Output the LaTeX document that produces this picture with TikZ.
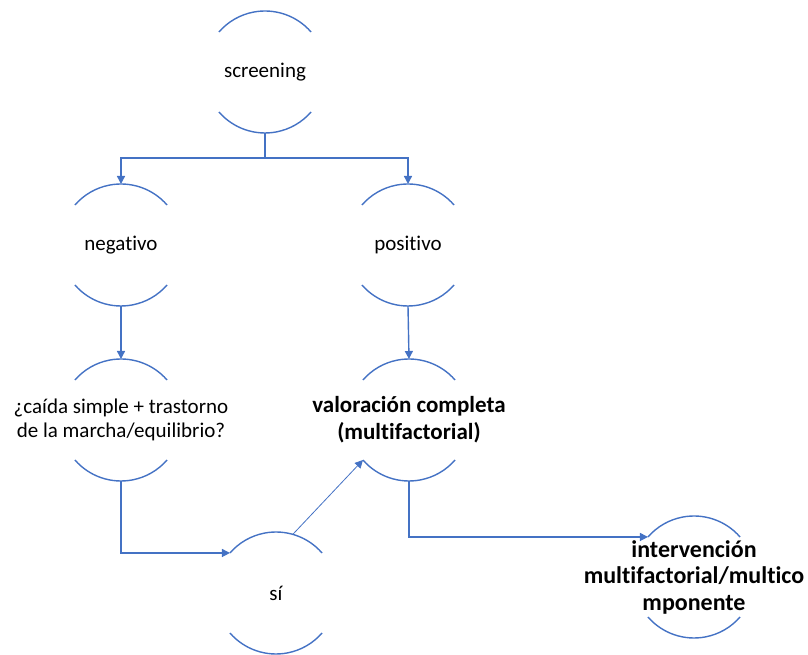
\documentclass[tikz,border=0pt]{standalone}
\usepackage{fontspec}
\setmainfont{Carlito}[Ligatures=NoCommon]
\usetikzlibrary{arrows.meta,positioning}
\definecolor{flowblue}{RGB}{68,114,196}

\begin{document}
\begin{tikzpicture}[x=1pt, y=1pt,
    ring/.style={circle, minimum size=122pt, inner sep=0pt, outer sep=0pt},
    txt/.style={align=center, inner sep=0pt, font=\fontsize{21}{24}\selectfont},
    boldtxt/.style={align=center, inner sep=0pt, font=\fontsize{23}{27}\selectfont\bfseries},
    link/.style={flowblue, line width=1.4pt, -{Triangle[length=8pt,width=8pt]}},
    thinlink/.style={flowblue, line width=0.8pt, -{Triangle[length=8pt,width=8pt]}}]
    \useasboundingbox (0,0) rectangle (808,655);
    % Circles
    \node[ring] (scr) at (265,583) {};
    \node[ring] (neg) at (121,410) {};
    \node[ring] (pos) at (408,410) {};
    \node[ring] (cai) at (121,235) {};
    \node[ring] (val) at (409,235) {};
    \node[ring] (si)  at (276,62) {};
    \node[ring] (int) at (694,78) {};
    % Only top and bottom arcs are visible
    \foreach \n in {scr,neg,pos,cai,val,si,int} {
        \draw[flowblue, line width=1.4pt] (\n.41) arc (41:139:61);
        \draw[flowblue, line width=1.4pt] (\n.221) arc (221:319:61);
    }
    % Texts
    \node[txt] (scr-t) at (scr) {screening};
    \node[txt] (neg-t) at (neg) {negativo};
    \node[txt] (pos-t) at (pos) {positivo};
    \node[txt] (cai-t) at (cai) {¿caída simple + trastorno\\de la marcha/equilibrio?};
    \node[boldtxt] (val-t) at (val) {valoración completa\\(multifactorial)};
    \node[txt] (si-t) at (si) {sí};
    \node[boldtxt, font=\fontsize{24}{26.5}\selectfont\bfseries] (int-t) at (int) {intervención\\multifactorial/multico\\mponente};
    % Connectors
    \draw[link] (scr.south) -- ++(0,-25) -| (neg.north);
    \draw[link] (scr.south) -- ++(0,-25) -| (pos.north);
    \draw[link] (neg.south) -- (cai.north);
    \draw[link] (pos.south) -- (val.north);
    \draw[link] (cai.south) |- (si.139);
    \draw[thinlink] (si.74) -- (val.221);
    \draw[link] (val.south) |- (int.139);
\end{tikzpicture}
\end{document}
